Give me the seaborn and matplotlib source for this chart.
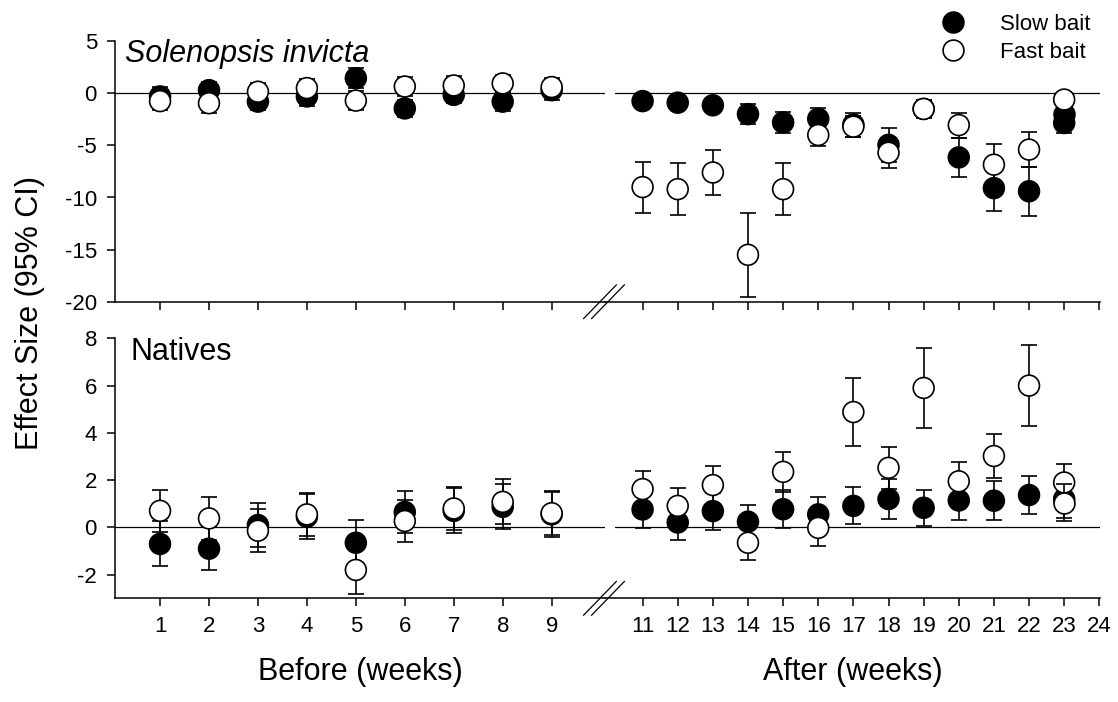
import numpy as np
import pandas as pd
import matplotlib
matplotlib.use("Agg")
import matplotlib.pyplot as plt
from matplotlib.lines import Line2D
import seaborn as sns

# ---- data -------------------------------------------------------------
weeks_before = [1, 2, 3, 4, 5, 6, 7, 8, 9]
weeks_after = [11, 12, 13, 14, 15, 16, 17, 18, 19, 20, 21, 22, 23]
ticks_before = [1, 2, 3, 4, 5, 6, 7, 8, 9]
ticks_after = [11, 12, 13, 14, 15, 16, 17, 18, 19, 20, 21, 22, 23, 24]

# Solenopsis invicta: effect size and 95% CI half-width
inv_slow_before = [-0.3, 0.3, -0.8, -0.3, 1.45, -1.45, -0.15, -0.8, 0.3]
inv_slow_before_ci = [0.95, 0.75, 0.85, 0.9, 0.95, 0.85, 0.8, 0.9, 0.95]
inv_fast_before = [-0.75, -0.95, 0.15, 0.5, -0.7, 0.65, 0.75, 0.95, 0.6]
inv_fast_before_ci = [0.9, 0.9, 0.85, 0.85, 0.95, 0.9, 0.9, 0.85, 0.9]
inv_slow_after = [-0.75, -0.9, -1.15, -2.0, -2.8, -2.45, -3.0, -4.95, -1.5,
                  -6.15, -9.1, -9.4, -2.85]
inv_slow_after_ci = [0.4, 0.4, 0.4, 0.95, 1.0, 1.0, 1.15, 1.6, 0.9,
                     1.85, 2.15, 2.35, 0.95]
inv_fast_after = [-9.0, -9.2, -7.6, -15.5, -9.2, -4.0, -3.2, -5.7, -1.5,
                  -3.05, -6.85, -5.4, -0.6]
inv_fast_after_ci = [2.45, 2.5, 2.15, 4.05, 2.5, 1.05, 1.0, 1.45, 0.9,
                     1.2, 2.0, 1.7, 0.5]
inv_slow_extra_week = [23]
inv_slow_extra = [-2.0]
inv_slow_extra_ci = [0.8]

# Native ants
nat_slow_before = [-0.7, -0.9, 0.1, 0.45, -0.65, 0.65, 0.7, 0.87, 0.55]
nat_slow_before_ci = [0.95, 0.9, 0.92, 0.95, 0.96, 0.9, 0.95, 0.95, 0.95]
nat_fast_before = [0.7, 0.38, -0.14, 0.55, -1.8, 0.27, 0.8, 1.08, 0.6]
nat_fast_before_ci = [0.9, 0.9, 0.92, 0.9, 1.0, 0.9, 0.92, 0.95, 0.92]
nat_slow_after = [0.76, 0.21, 0.69, 0.24, 0.77, 0.55, 0.91, 1.2, 0.83,
                  1.14, 1.13, 1.37, 1.2]
nat_slow_after_ci = [0.78, 0.76, 0.78, 0.72, 0.8, 0.73, 0.78, 0.84, 0.77,
                     0.83, 0.82, 0.82, 0.8]
nat_fast_after = [1.62, 0.91, 1.79, -0.65, 2.35, -0.02, 4.88, 2.52, 5.9,
                  1.95, 3.02, 6.0, 1.9]
nat_fast_after_ci = [0.78, 0.74, 0.79, 0.73, 0.85, 0.76, 1.43, 0.89, 1.68,
                     0.83, 0.94, 1.72, 0.8]
nat_fast_extra_week = [23]
nat_fast_extra = [1.05]
nat_fast_extra_ci = [0.77]

series_labels = ["Slow bait", "Fast bait"]

# ---- style ------------------------------------------------------------
sns.set_style("ticks")
plt.rcParams["font.family"] = ["Liberation Sans", "DejaVu Sans"]
plt.rcParams["axes.linewidth"] = 1.1
plt.rcParams["axes.unicode_minus"] = False
for key in ("text.color", "axes.labelcolor", "xtick.color", "ytick.color",
            "axes.edgecolor"):
    plt.rcParams[key] = "black"

fig = plt.figure(figsize=(11.18, 7.02), dpi=100)

W, H = 1118.0, 702.0
left_x0, left_x1 = 115, 605
right_x0, right_x1 = 605, 1100
top_y0, top_y1 = 41.2, 301.7
bot_y0, bot_y1 = 338.3, 598.3


def make_ax(x0, x1, y0, y1):
    return fig.add_axes([x0 / W, 1 - y1 / H, (x1 - x0) / W, (y1 - y0) / H])


ax_tl = make_ax(left_x0, left_x1, top_y0, top_y1)
ax_tr = make_ax(right_x0, right_x1, top_y0, top_y1)
ax_bl = make_ax(left_x0, left_x1, bot_y0, bot_y1)
ax_br = make_ax(right_x0, right_x1, bot_y0, bot_y1)

MS_AREA = 225
EW = 1.2
LW = 1.2
styles = {"Slow bait": "black", "Fast bait": "white"}


def draw_series(ax, x, y, ci, label, z):
    ax.errorbar(x, y, yerr=ci, fmt="none", ecolor="black", elinewidth=LW,
                capsize=6, capthick=LW, zorder=z)
    df = pd.DataFrame({"week": x, "effect": y, "bait": label})
    sns.scatterplot(data=df, x="week", y="effect", hue="bait",
                    palette={label: styles[label]}, edgecolor="black",
                    linewidth=EW, s=MS_AREA, legend=False, ax=ax,
                    zorder=z + 0.5)


# Solenopsis invicta panel
draw_series(ax_tl, weeks_before, inv_slow_before, inv_slow_before_ci, "Slow bait", 2)
draw_series(ax_tl, weeks_before, inv_fast_before, inv_fast_before_ci, "Fast bait", 4)
draw_series(ax_tr, weeks_after, inv_slow_after, inv_slow_after_ci, "Slow bait", 2)
draw_series(ax_tr, inv_slow_extra_week, inv_slow_extra, inv_slow_extra_ci, "Slow bait", 3)
draw_series(ax_tr, weeks_after, inv_fast_after, inv_fast_after_ci, "Fast bait", 5)

# Natives panel
draw_series(ax_bl, weeks_before, nat_slow_before, nat_slow_before_ci, "Slow bait", 2)
draw_series(ax_bl, weeks_before, nat_fast_before, nat_fast_before_ci, "Fast bait", 4)
draw_series(ax_br, weeks_after, nat_slow_after, nat_slow_after_ci, "Slow bait", 2)
draw_series(ax_br, weeks_after, nat_fast_after, nat_fast_after_ci, "Fast bait", 4)
draw_series(ax_br, nat_fast_extra_week, nat_fast_extra, nat_fast_extra_ci, "Fast bait", 6)

# ---- axes -------------------------------------------------------------
for ax in (ax_tl, ax_bl):
    ax.set_xlim(0.08, 10.09)
    ax.set_xticks(ticks_before)
for ax in (ax_tr, ax_br):
    ax.set_xlim(9.93, 24.02)
    ax.set_xticks(ticks_after)

for ax in (ax_tl, ax_tr):
    ax.set_ylim(-20, 5)
    ax.set_yticks([5, 0, -5, -10, -15, -20])
for ax in (ax_bl, ax_br):
    ax.set_ylim(-3, 8)
    ax.set_yticks([-2, 0, 2, 4, 6, 8])

for ax in (ax_tl, ax_tr, ax_bl, ax_br):
    ax.set_facecolor("none")
    ax.spines["top"].set_visible(False)
    ax.spines["right"].set_visible(False)
    ax.spines["bottom"].set_linewidth(1.1)
    ax.spines["left"].set_linewidth(1.1)
    ax.tick_params(direction="out", length=6, width=1.1, labelsize=16,
                   colors="black", pad=7)
    ax.set_xlabel("")
    ax.set_ylabel("")

for ax in (ax_tr, ax_br):
    ax.spines["left"].set_visible(False)
    ax.tick_params(axis="y", left=False, labelleft=False)

for ax in (ax_tl, ax_tr):
    ax.tick_params(axis="x", labelbottom=False)

ax_tl.axhline(0, color="black", lw=0.9, zorder=1)
ax_bl.axhline(0, color="black", lw=0.9, zorder=1)
ax_tr.axhline(0, color="black", lw=0.9, xmin=0.02, xmax=1.005, zorder=1)
ax_br.axhline(0, color="black", lw=0.9, xmin=0.02, xmax=1.005, zorder=1)

ax_bl.set_xlabel("Before (weeks)", fontsize=22, labelpad=14)
ax_br.set_xlabel("After (weeks)", fontsize=22, labelpad=14)

ax_tl.text(0.02, 0.921, "Solenopsis invicta", transform=ax_tl.transAxes,
           fontsize=22, fontstyle="italic", va="baseline", ha="left")
ax_bl.text(0.032, 0.9165, "Natives", transform=ax_bl.transAxes,
           fontsize=22, va="baseline", ha="left")

fig.text(30 / W, 1 - 313 / H, "Effect Size (95% CI)", rotation=90,
         fontsize=22, ha="center", va="center")

# axis-break marks on both x axes
for y_axis in (top_y1, bot_y1):
    for xc in (600, 608):
        fig.add_artist(Line2D([(xc - 16.5) / W, (xc + 16.5) / W],
                              [1 - (y_axis + 17) / H, 1 - (y_axis - 17) / H],
                              color="black", lw=0.9,
                              transform=fig.transFigure))

# legend
handles = [
    Line2D([], [], ls="none", marker="o", markersize=15, markerfacecolor="black",
           markeredgecolor="black", markeredgewidth=EW),
    Line2D([], [], ls="none", marker="o", markersize=15, markerfacecolor="white",
           markeredgecolor="black", markeredgewidth=EW),
]
fig.legend(handles, series_labels, loc="upper right",
           bbox_to_anchor=(1090 / W, 1 - 14 / H), frameon=False, fontsize=16,
           handlelength=1.0, handletextpad=1.6, labelspacing=0.32,
           borderpad=0, borderaxespad=0, labelcolor="black")

fig.savefig("out.png", dpi=100)
